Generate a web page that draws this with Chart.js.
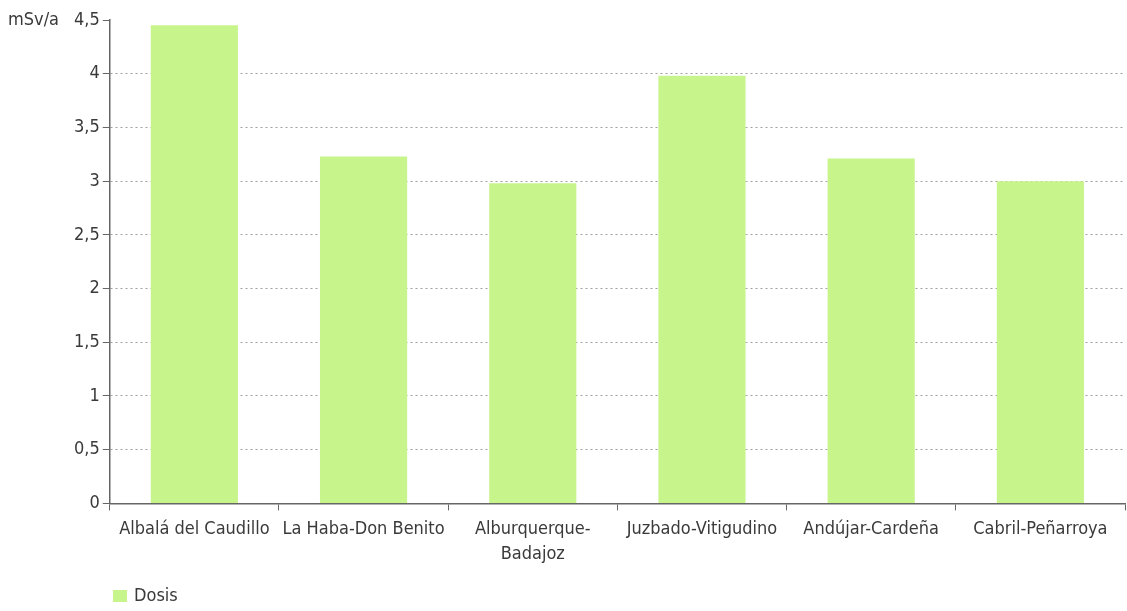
<!DOCTYPE html>
<html>
<head>
<meta charset="utf-8">
<script src="https://cdn.jsdelivr.net/npm/chart.js@4"></script>
<style>
  html, body { margin: 0; padding: 0; background: #fff; }
  #wrap { width: 1127px; height: 611px; position: relative; }
</style>
</head>
<body>
<div id="wrap"><canvas id="chart1"></canvas></div>
<script>
"use strict";
const categories = [
    "Albalá del Caudillo",
    "La Haba-Don Benito",
    ["Alburquerque-", "Badajoz"],
    "Juzbado-Vitigudino",
    "Andújar-Cardeña",
    "Cabril-Peñarroya",
];
const dosis = [4.45, 3.23, 2.98, 3.98, 3.21, 3.0];
const yTicks = [0, 0.5, 1, 1.5, 2, 2.5, 3, 3.5, 4, 4.5];
const yUnit = "mSv/a";

const textColor = "#3a3a3a";
const barColor = "#c8f48c";
const fontFamily = "'Liberation Sans Narrow', 'DejaVu Sans Condensed', sans-serif";

// unit label left of the y axis + legend under the chart
const extras = {
    id: "extras",
    afterDraw(chart) {
        const ctx = chart.ctx;
        const area = chart.chartArea;
        ctx.save();
        ctx.font = "18px " + fontFamily;
        ctx.fillStyle = textColor;
        ctx.textBaseline = "middle";
        ctx.textAlign = "left";
        ctx.fillText(yUnit, 8, area.top);
        const ds = chart.data.datasets[0];
        ctx.fillStyle = ds.backgroundColor;
        ctx.fillRect(113, 590, 14, 12);
        ctx.fillStyle = textColor;
        ctx.fillText(ds.label, 134, 596);
        ctx.restore();
    },
};

const chart1Data = {
    labels: categories,
    datasets: [
        {
            label: "Dosis",
            data: dosis,
            backgroundColor: barColor,
            borderWidth: 0,
            categoryPercentage: 1,
            barPercentage: 0.515,
        },
    ],
};

const chart1Config = {
    type: "bar",
    data: chart1Data,
    options: {
        responsive: true,
        maintainAspectRatio: false,
        animation: false,
        layout: { padding: { left: 71, right: 2, top: 20, bottom: 38 } },
        plugins: {
            legend: { display: false },
            tooltip: { enabled: false },
        },
        scales: {
            x: {
                grid: {
                    drawOnChartArea: false,
                    tickLength: 7,
                    tickColor: "#666",
                    offset: true,
                },
                border: { color: "#666", width: 1.5 },
                ticks: {
                    color: textColor,
                    font: { family: fontFamily, size: 18, lineHeight: 1.35 },
                    maxRotation: 0,
                    padding: 7,
                },
            },
            y: {
                min: 0,
                max: 4.5,
                afterBuildTicks(scale) {
                    scale.ticks = yTicks.map((v) => ({ value: v }));
                },
                grid: {
                    color: (c) => (c.tick && (c.tick.value === 4.5 || c.tick.value === 0) ? "rgba(0,0,0,0)" : "#a0a0a0"),
                    tickLength: 7,
                    tickColor: "#666",
                    tickBorderDash: [],
                },
                border: { color: "#666", width: 1.5, dash: [2, 3] },
                ticks: {
                    color: textColor,
                    font: { family: fontFamily, size: 18 },
                    padding: 3,
                    callback: (v) => String(v).replace(".", ","),
                },
            },
        },
    },
    plugins: [extras],
};

new Chart(document.querySelector("#chart1"), chart1Config);
</script>
</body>
</html>
